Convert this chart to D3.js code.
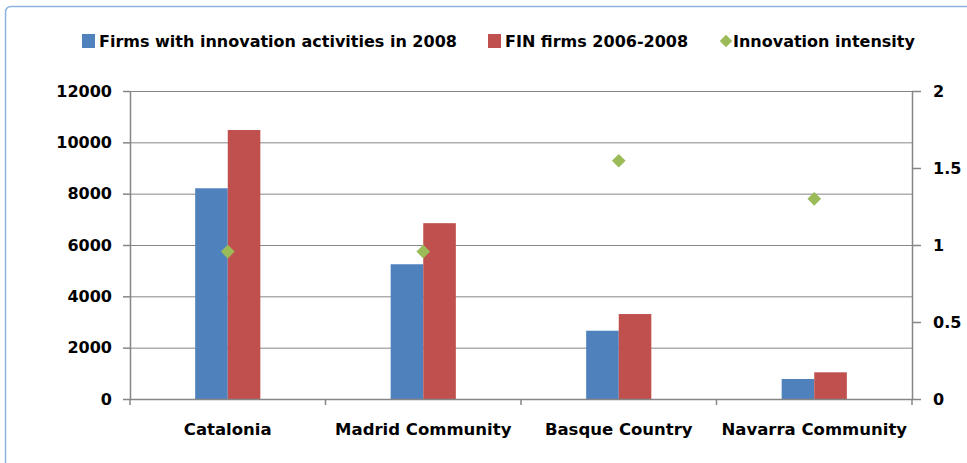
<!DOCTYPE html>
<html>
<head>
<meta charset="utf-8">
<script src="https://cdn.jsdelivr.net/npm/d3@7"></script>
<style>
  body { margin: 0; background: #fff; }
</style>
</head>
<body>
<div id="chart"></div>
<script>
// data
const regions = ["Catalonia", "Madrid Community", "Basque Country", "Navarra Community"];
const firmsInnov2008 = [8210, 5250, 2660, 780];
const finFirms = [10480, 6850, 3310, 1040];
const intensity = [0.957, 0.957, 1.547, 1.30];
const seriesNames = ["Firms with innovation activities in 2008", "FIN firms 2006-2008", "Innovation intensity"];
const leftTicks = [0, 2000, 4000, 6000, 8000, 10000, 12000];
const rightTicks = [0, 0.5, 1, 1.5, 2];

const width = 967, height = 463;
const margin = {top: 91, right: 55, bottom: 64, left: 130};
const innerWidth = width - margin.left - margin.right;
const innerHeight = height - margin.top - margin.bottom;
const colors = ["#4f81bd", "#c0504d", "#9bbb59"];
const gray = "#868686";
const font = "'DejaVu Sans', Verdana, sans-serif";

const svg = d3.select("#chart").append("svg")
    .attr("width", width)
    .attr("height", height);

// chart area frame
svg.append("path")
    .attr("d", "M5.5,470V12.5Q5.5,6.5 11.5,6.5H975")
    .attr("fill", "none")
    .attr("stroke", "#8db3e2")
    .attr("stroke-width", 1.5);

const g = svg.append("g")
    .attr("transform", "translate(" + margin.left + "," + margin.top + ")");

// scales
let xScale = d3.scaleBand().domain(regions).range([0, innerWidth]);
let yScale = d3.scaleLinear().domain([0, 12000]).range([innerHeight, 0]);
let y2Scale = d3.scaleLinear().domain([0, 2]).range([innerHeight, 0]);
// gap width 200% like the original
const groupW = xScale.bandwidth() / 3;
let xInner = d3.scaleBand().domain([0, 1]).range([0, groupW]);

// gridlines
g.selectAll(".grid")
    .data(leftTicks.slice(1))
    .join("line")
    .attr("class", "grid")
    .attr("x1", 0).attr("x2", innerWidth)
    .attr("y1", d => yScale(d) + 0.5).attr("y2", d => yScale(d) + 0.5)
    .attr("stroke", gray);

// bars
const barData = [];
regions.forEach((r, i) => {
    barData.push({region: r, s: 0, v: firmsInnov2008[i]});
    barData.push({region: r, s: 1, v: finFirms[i]});
});
g.selectAll(".bar")
    .data(barData)
    .join("rect")
    .attr("class", "bar")
    .attr("fill", d => colors[d.s])
    .attr("x", d => xScale(d.region) + xScale.bandwidth() / 2 - groupW / 2 + xInner(d.s))
    .attr("y", d => yScale(d.v))
    .attr("width", xInner.bandwidth())
    .attr("height", d => yScale(0) - yScale(d.v));

// axes
const yAxis = d3.axisLeft(yScale).tickValues(leftTicks).tickFormat(d3.format("d")).tickSize(7).tickPadding(11);
const y2Axis = d3.axisRight(y2Scale).tickValues(rightTicks).tickFormat(d3.format("")).tickSize(9).tickPadding(12);
const xAxis = d3.axisBottom(xScale).tickSize(0).tickPadding(24);

const yG = g.append("g").attr("class", "y-axis").call(yAxis);
const y2G = g.append("g").attr("class", "y2-axis")
    .attr("transform", "translate(" + innerWidth + ",0)").call(y2Axis);
const xG = g.append("g").attr("class", "x-axis")
    .attr("transform", "translate(0," + innerHeight + ")").call(xAxis);

[yG, y2G, xG].forEach(a => {
    a.attr("font-family", font).attr("font-size", 16).attr("font-weight", "bold");
    a.select(".domain").attr("stroke", gray).attr("stroke-width", 1.5);
    a.selectAll(".tick line").attr("stroke", gray).attr("stroke-width", 1.5);
    a.selectAll("text").attr("fill", "#000");
});
xG.select(".domain").attr("d", "M0,0.5H" + innerWidth);
yG.select(".domain").attr("d", "M0.5,0V" + (innerHeight + 0.5));
y2G.select(".domain").attr("d", "M0.5,0V" + (innerHeight + 0.5));
xG.attr("font-size", 16.5);

// category boundary ticks
g.selectAll(".xtick")
    .data(regions.concat(["end"]))
    .join("line")
    .attr("class", "xtick")
    .attr("x1", (d, i) => i < regions.length ? xScale(d) : innerWidth)
    .attr("x2", (d, i) => i < regions.length ? xScale(d) : innerWidth)
    .attr("y1", innerHeight).attr("y2", innerHeight + 6)
    .attr("stroke", gray).attr("stroke-width", 1.5);

// innovation intensity diamonds
g.selectAll(".pt")
    .data(regions)
    .join("path")
    .attr("class", "pt")
    .attr("d", d3.symbol().type(d3.symbolDiamond2).size(120))
    .attr("transform", (d, i) => "translate(" + (xScale(d) + xScale.bandwidth() / 2) + "," + y2Scale(intensity[i]) + ")")
    .attr("fill", colors[2]);

// legend
const legendX = [82, 488, 720];
const legend = svg.append("g").attr("class", "legend")
    .attr("font-family", font).attr("font-size", 16).attr("font-weight", "bold");
seriesNames.forEach((name, i) => {
    const lg = legend.append("g").attr("transform", "translate(" + legendX[i] + ",41)");
    if (i < 2) {
        lg.append("rect").attr("x", 0).attr("y", -7).attr("width", 13).attr("height", 14).attr("fill", colors[i]);
    } else {
        lg.append("path").attr("d", d3.symbol().type(d3.symbolDiamond2).size(100))
            .attr("transform", "translate(6,0)").attr("fill", colors[i]);
    }
    lg.append("text").attr("x", i < 2 ? 17 : 13).attr("dy", "0.35em")
        .attr("fill", "#000").text(name);
});
</script>
</body>
</html>
